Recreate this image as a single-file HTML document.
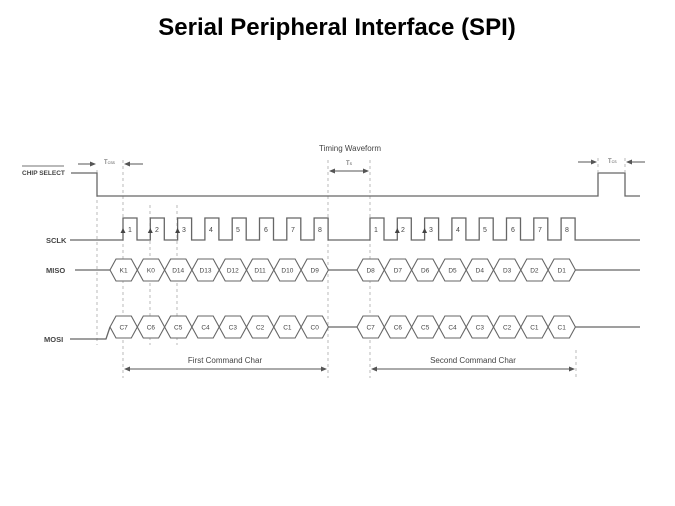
<!DOCTYPE html>
<html><head><meta charset="utf-8"><style>
body{margin:0;background:#fff;width:675px;height:506px;overflow:hidden}
svg{display:block}
.t{font-family:"Liberation Sans",sans-serif;fill:#444}
</style></head><body>
<svg width="675" height="506" viewBox="0 0 675 506" xmlns="http://www.w3.org/2000/svg">
<defs>
<marker id="ah" markerWidth="6" markerHeight="6" refX="5" refY="3" orient="auto-start-reverse"><path d="M0,0.5 L6,3 L0,5.5z" fill="#555"/></marker>
<polygon id="hx" points="0,0 6,-11 21.3,-11 27.3,0 21.3,11 6,11" fill="#fff" stroke="#666" stroke-width="1.1"/>
</defs>
<text x="337" y="35" text-anchor="middle" font-family="Liberation Sans,sans-serif" font-weight="bold" font-size="24" fill="#000">Serial Peripheral Interface (SPI)</text>

<g stroke="#aaa" stroke-width="0.8" stroke-dasharray="3,3">
<line x1="97" y1="170" x2="97" y2="345"/>
<line x1="123" y1="160" x2="123" y2="378"/>
<line x1="150" y1="205" x2="150" y2="345"/>
<line x1="177" y1="205" x2="177" y2="345"/>
<line x1="328" y1="160" x2="328" y2="378"/>
<line x1="370" y1="160" x2="370" y2="378"/>
<line x1="576" y1="350" x2="576" y2="378"/>
<line x1="598" y1="158" x2="598" y2="172"/>
<line x1="625" y1="158" x2="625" y2="172"/>
</g>

<g class="t" font-size="7.5" font-weight="bold">
<line x1="22" y1="166" x2="64" y2="166" stroke="#444" stroke-width="0.7"/>
<text x="22" y="175" font-size="6.5">CHIP SELECT</text>
<text x="46" y="243">SCLK</text>
<text x="46" y="273">MISO</text>
<text x="44" y="342">MOSI</text>
</g>
<text x="350" y="151" text-anchor="middle" class="t" font-size="8">Timing Waveform</text>

<g fill="none" stroke="#666" stroke-width="1.3">
<path d="M71 173 H97 V196 H598 V173 H625 V196 H640"/>
<path d="M70 240 H123 V218 H137 V240 H150.3 V218 H164.3 V240 H177.6 V218 H191.6 V240 H204.9 V218 H218.9 V240 H232.2 V218 H246.2 V240 H259.5 V218 H273.5 V240 H286.8 V218 H300.8 V240 H314.1 V218 H328.1 V240 H370 V218 H384 V240 H397.3 V218 H411.3 V240 H424.6 V218 H438.6 V240 H451.9 V218 H465.9 V240 H479.2 V218 H493.2 V240 H506.5 V218 H520.5 V240 H533.8 V218 H547.8 V240 H561.1 V218 H575.1 V240 H640"/>
<path d="M75 270 H110 M328 270 H357 M575 270 H640"/>
<path d="M70 339 H106 L110 327 M328 327 H357 M575 327 H640"/>
</g>

<g fill="#444">
<path d="M123 228 l-2.5 5 h5z"/><path d="M150.3 228 l-2.5 5 h5z"/><path d="M177.6 228 l-2.5 5 h5z"/>
<path d="M397.3 228 l-2.5 5 h5z"/><path d="M424.6 228 l-2.5 5 h5z"/>
</g>
<g class="t" font-size="7">
<text x="128" y="232">1</text><text x="155" y="232">2</text><text x="182" y="232">3</text><text x="209" y="232">4</text><text x="236" y="232">5</text><text x="264" y="232">6</text><text x="291" y="232">7</text><text x="318" y="232">8</text>
<text x="374" y="232">1</text><text x="401" y="232">2</text><text x="429" y="232">3</text><text x="456" y="232">4</text><text x="483" y="232">5</text><text x="511" y="232">6</text><text x="538" y="232">7</text><text x="565" y="232">8</text>
</g>

<g class="t" font-size="6.5" text-anchor="middle">
<g transform="translate(110,270)"><use href="#hx"/><text x="13.6" y="2.5">K1</text></g>
<g transform="translate(137.3,270)"><use href="#hx"/><text x="13.6" y="2.5">K0</text></g>
<g transform="translate(164.6,270)"><use href="#hx"/><text x="13.6" y="2.5">D14</text></g>
<g transform="translate(191.9,270)"><use href="#hx"/><text x="13.6" y="2.5">D13</text></g>
<g transform="translate(219.2,270)"><use href="#hx"/><text x="13.6" y="2.5">D12</text></g>
<g transform="translate(246.5,270)"><use href="#hx"/><text x="13.6" y="2.5">D11</text></g>
<g transform="translate(273.8,270)"><use href="#hx"/><text x="13.6" y="2.5">D10</text></g>
<g transform="translate(301.1,270)"><use href="#hx"/><text x="13.6" y="2.5">D9</text></g>
<g transform="translate(357,270)"><use href="#hx"/><text x="13.6" y="2.5">D8</text></g>
<g transform="translate(384.3,270)"><use href="#hx"/><text x="13.6" y="2.5">D7</text></g>
<g transform="translate(411.6,270)"><use href="#hx"/><text x="13.6" y="2.5">D6</text></g>
<g transform="translate(438.9,270)"><use href="#hx"/><text x="13.6" y="2.5">D5</text></g>
<g transform="translate(466.2,270)"><use href="#hx"/><text x="13.6" y="2.5">D4</text></g>
<g transform="translate(493.5,270)"><use href="#hx"/><text x="13.6" y="2.5">D3</text></g>
<g transform="translate(520.8,270)"><use href="#hx"/><text x="13.6" y="2.5">D2</text></g>
<g transform="translate(548.1,270)"><use href="#hx"/><text x="13.6" y="2.5">D1</text></g>
<g transform="translate(110,327)"><use href="#hx"/><text x="13.6" y="2.5">C7</text></g>
<g transform="translate(137.3,327)"><use href="#hx"/><text x="13.6" y="2.5">C6</text></g>
<g transform="translate(164.6,327)"><use href="#hx"/><text x="13.6" y="2.5">C5</text></g>
<g transform="translate(191.9,327)"><use href="#hx"/><text x="13.6" y="2.5">C4</text></g>
<g transform="translate(219.2,327)"><use href="#hx"/><text x="13.6" y="2.5">C3</text></g>
<g transform="translate(246.5,327)"><use href="#hx"/><text x="13.6" y="2.5">C2</text></g>
<g transform="translate(273.8,327)"><use href="#hx"/><text x="13.6" y="2.5">C1</text></g>
<g transform="translate(301.1,327)"><use href="#hx"/><text x="13.6" y="2.5">C0</text></g>
<g transform="translate(357,327)"><use href="#hx"/><text x="13.6" y="2.5">C7</text></g>
<g transform="translate(384.3,327)"><use href="#hx"/><text x="13.6" y="2.5">C6</text></g>
<g transform="translate(411.6,327)"><use href="#hx"/><text x="13.6" y="2.5">C5</text></g>
<g transform="translate(438.9,327)"><use href="#hx"/><text x="13.6" y="2.5">C4</text></g>
<g transform="translate(466.2,327)"><use href="#hx"/><text x="13.6" y="2.5">C3</text></g>
<g transform="translate(493.5,327)"><use href="#hx"/><text x="13.6" y="2.5">C2</text></g>
<g transform="translate(520.8,327)"><use href="#hx"/><text x="13.6" y="2.5">C1</text></g>
<g transform="translate(548.1,327)"><use href="#hx"/><text x="13.6" y="2.5">C1</text></g>
</g>

<g stroke="#555" stroke-width="1" fill="none">
<line x1="78" y1="164" x2="95" y2="164" marker-end="url(#ah)"/>
<line x1="143" y1="164" x2="125" y2="164" marker-end="url(#ah)"/>
<line x1="330" y1="171" x2="368" y2="171" marker-start="url(#ah)" marker-end="url(#ah)"/>
<line x1="578" y1="162" x2="596" y2="162" marker-end="url(#ah)"/>
<line x1="645" y1="162" x2="627" y2="162" marker-end="url(#ah)"/>
<line x1="125" y1="369" x2="326" y2="369" marker-start="url(#ah)" marker-end="url(#ah)"/>
<line x1="372" y1="369" x2="574" y2="369" marker-start="url(#ah)" marker-end="url(#ah)"/>
</g>
<g class="t" font-size="6">
<text x="104" y="164">T<tspan font-size="3.5">CSS</tspan></text>
<text x="346" y="165">T<tspan font-size="3.5">S</tspan></text>
<text x="608" y="163">T<tspan font-size="3.5">CS</tspan></text>
</g>
<text x="225" y="363" text-anchor="middle" class="t" font-size="8">First Command Char</text>
<text x="473" y="363" text-anchor="middle" class="t" font-size="8">Second Command Char</text>
</svg>
</body></html>
